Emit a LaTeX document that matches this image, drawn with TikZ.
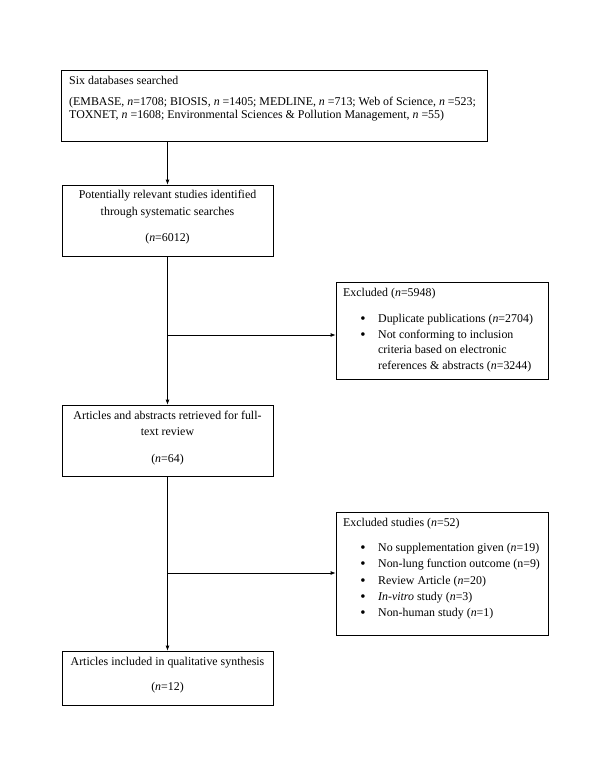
\documentclass[tikz,border=0pt]{standalone}
\usepackage{fontspec}
\setmainfont{Liberation Serif}
\usetikzlibrary{arrows.meta}
\newcommand{\nn}{\textit{n}}
\begin{document}
\begin{tikzpicture}[x=1pt,y=-1pt,
  box/.style={draw, line width=0.8pt, inner sep=0pt},
  txt/.style={inner sep=0pt, font=\fontsize{11.9}{13}\selectfont},
  lt/.style={txt, anchor=mid west},
  ct/.style={txt, anchor=mid},
  bul/.style={inner sep=0pt, anchor=center, font=\fontsize{15}{15}\selectfont},
  conn/.style={line width=0.8pt, -{Latex[length=5pt,width=4pt]}}]
\useasboundingbox (0,0) rectangle (600,776);
\fill[white] (0,0) rectangle (600,776);
% boxes
\node[box, minimum width=426pt, minimum height=71pt] (b1) at (274.5,105.5) {};
\node[box, minimum width=211pt, minimum height=71pt] (b2) at (167.5,220.5) {};
\node[box, minimum width=212pt, minimum height=97pt] (b3) at (442,330.5) {};
\node[box, minimum width=211pt, minimum height=71pt] (b4) at (167.5,440.5) {};
\node[box, minimum width=212pt, minimum height=123pt] (b5) at (442,573.5) {};
\node[box, minimum width=211pt, minimum height=54pt] (b6) at (167.5,678) {};
% box 1 text
\node[lt] (t11) at (69,82) {Six databases searched};
\node[lt] (t12) at (69,103) {(EMBASE, \nn=1708; BIOSIS, \nn\ =1405; MEDLINE, \nn\ =713; Web of Science, \nn\ =523;};
\node[lt] (t13) at (69,116) {TOXNET, \nn\ =1608; Environmental Sciences \& Pollution Management, \nn\ =55)};
% box 2 text
\node[ct] (t21) at (167.5,196) {Potentially relevant studies identified};
\node[ct] (t22) at (167.5,213) {through systematic searches};
\node[ct] (t23) at (167.5,239) {(\nn=6012)};
% box 3 text
\node[lt] (t31) at (343,294) {Excluded (\nn=5948)};
\node[bul] (p31) at (363,320) {\textbullet};
\node[lt] (t32) at (378,320) {Duplicate publications (\nn=2704)};
\node[bul] (p32) at (363,336) {\textbullet};
\node[lt] (t33) at (378,336) {Not conforming to inclusion};
\node[lt] (t34) at (378,351.5) {criteria based on electronic};
\node[lt] (t35) at (378,367) {references \& abstracts (\nn=3244)};
% box 4 text
\node[ct] (t41) at (167.5,417) {Articles and abstracts retrieved for full-};
\node[ct] (t42) at (167.5,433) {text review};
\node[ct] (t43) at (167.5,460) {(\nn=64)};
% box 5 text
\node[lt] (t51) at (343,524) {Excluded studies (\nn=52)};
\node[bul] (p51) at (363,549) {\textbullet};
\node[lt] (t52) at (378,549) {No supplementation given (\nn=19)};
\node[bul] (p52) at (363,565) {\textbullet};
\node[lt] (t53) at (378,565) {Non-lung function outcome (n=9)};
\node[bul] (p53) at (363,582) {\textbullet};
\node[lt] (t54) at (378,582) {Review Article (\nn=20)};
\node[bul] (p54) at (363,598) {\textbullet};
\node[lt] (t55) at (378,598) {\textit{In-vitro} study (\nn=3)};
\node[bul] (p55) at (363,614) {\textbullet};
\node[lt] (t56) at (378,614) {Non-human study (\nn=1)};
% box 6 text
\node[ct] (t61) at (167.5,663) {Articles included in qualitative synthesis};
\node[ct] (t62) at (167.5,688) {(\nn=12)};
% connectors
\coordinate (j1) at (167.5,335);
\coordinate (j2) at (167.5,573);
\draw[conn] (b1.south -| b2.north) -- (b2.north);
\draw[conn] (b2.south) -- (b4.north);
\draw[conn] (j1) -- (j1 -| b3.west);
\draw[conn] (b4.south) -- (b6.north);
\draw[conn] (j2) -- (j2 -| b5.west);
\end{tikzpicture}
\end{document}
